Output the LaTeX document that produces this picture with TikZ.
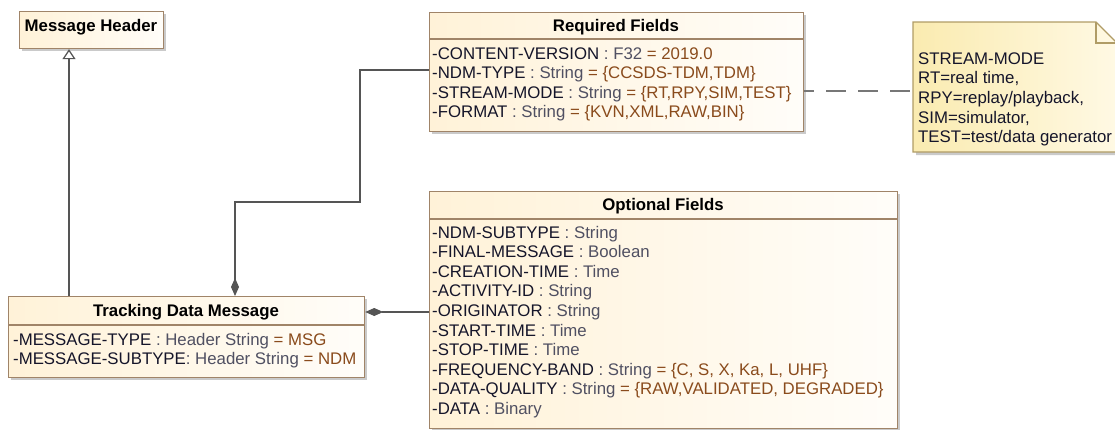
\documentclass[tikz,border=0pt]{standalone}
\usepackage{fontspec}
\setmainfont{Liberation Sans}
\usetikzlibrary{arrows.meta,shadows,calc}
\definecolor{bordc}{HTML}{A08468}
\definecolor{creamL}{HTML}{FFF2D8}
\definecolor{creamR}{HTML}{FFFDF9}
\definecolor{noteL}{HTML}{FAEBB0}
\definecolor{noteR}{HTML}{FFF9E4}
\definecolor{notebord}{HTML}{B09C66}
\definecolor{linec}{HTML}{555555}
\definecolor{namec}{HTML}{15152A}
\definecolor{typec}{HTML}{505062}
\definecolor{valc}{HTML}{8A4B1C}
\newcommand\attrv[3]{\textcolor{namec}{#1}\ \textcolor{typec}{: #2}\ \textcolor{valc}{= #3}}
\newcommand\attrt[2]{\textcolor{namec}{#1}\ \textcolor{typec}{: #2}}
\tikzset{
  umlbox/.style={draw=bordc, line width=1.2pt, left color=creamL, right color=creamR,
    drop shadow={shadow xshift=2.5pt, shadow yshift=-2.5pt, fill=black!35, opacity=.6},
    inner sep=0pt, anchor=north west},
  sepline/.style={draw=bordc, line width=1.1pt},
  attr/.style={inner sep=0pt, anchor=base west, text=namec, font=\fontsize{16.8}{19.5}\selectfont},
  ttl/.style={inner sep=0pt, anchor=base, text=black, font=\fontsize{16.8}{19.5}\selectfont\bfseries},
  conn/.style={draw=linec, line width=1.3pt},
}
\begin{document}
\begin{tikzpicture}[x=1pt,y=-1pt]
\useasboundingbox (0,0) rectangle (1115,429);
% boxes
\node[umlbox, minimum width=144pt, minimum height=37pt] (mh) at (19,11) {};
\node[umlbox, minimum width=374pt, minimum height=119pt] (rf) at (429,12) {};
\node[umlbox, minimum width=468pt, minimum height=237pt] (of) at (429,191) {};
\node[umlbox, minimum width=356pt, minimum height=81pt] (tdm) at (8,296) {};
\draw[sepline] (rf.west |- 0,39) -- (rf.east |- 0,39);
\draw[sepline] (of.west |- 0,219) -- (of.east |- 0,219);
\draw[sepline] (tdm.west |- 0,325) -- (tdm.east |- 0,325);
% note
\fill[black!35, opacity=.6] (916,25) -- (1099,25) -- (1121,47) -- (1121,155) -- (916,155) -- cycle;
\path[draw=notebord, line width=1.2pt, left color=noteL, right color=noteR]
  (913,22) -- (1096,22) -- (1118,44) -- (1118,152) -- (913,152) -- cycle;
\draw[draw=notebord, line width=1.2pt] (1096,22) -- (1096,43) -- (1118,43);
% titles
\node[ttl] (mht) at (91,31) {Message Header};
\node[ttl] (rft) at (616,31) {Required Fields};
\node[ttl] (oft) at (663,210) {Optional Fields};
\node[ttl] (tdmt) at (186,316) {Tracking Data Message};
% required fields
\node[attr] (rf1) at (432,59) {\attrv{-CONTENT-VERSION}{F32}{2019.0}};
\node[attr] (rf2) at (432,78.5) {\attrv{-NDM-TYPE}{String}{\{CCSDS-TDM,TDM\}}};
\node[attr] (rf3) at (432,98) {\attrv{-STREAM-MODE}{String}{\{RT,RPY,SIM,TEST\}}};
\node[attr] (rf4) at (432,117.5) {\attrv{-FORMAT}{String}{\{KVN,XML,RAW,BIN\}}};
% optional fields
\node[attr] (of1) at (432,238) {\attrt{-NDM-SUBTYPE}{String}};
\node[attr] (of2) at (432,257.6) {\attrt{-FINAL-MESSAGE}{Boolean}};
\node[attr] (of3) at (432,277.2) {\attrt{-CREATION-TIME}{Time}};
\node[attr] (of4) at (432,296.8) {\attrt{-ACTIVITY-ID}{String}};
\node[attr] (of5) at (432,316.4) {\attrt{-ORIGINATOR}{String}};
\node[attr] (of6) at (432,336) {\attrt{-START-TIME}{Time}};
\node[attr] (of7) at (432,355.6) {\attrt{-STOP-TIME}{Time}};
\node[attr] (of8) at (432,375.2) {\attrv{-FREQUENCY-BAND}{String}{\{C, S, X, Ka, L, UHF\}}};
\node[attr] (of9) at (432,394.8) {\attrv{-DATA-QUALITY}{String}{\{RAW,VALIDATED, DEGRADED\}}};
\node[attr] (of10) at (432,414.4) {\attrt{-DATA}{Binary}};
% tracking data message
\node[attr] (tdm1) at (13,345) {\attrv{-MESSAGE-TYPE}{Header String}{MSG}};
\node[attr] (tdm2) at (13,364.5) {\textcolor{namec}{-MESSAGE-SUBTYPE}\textcolor{typec}{: Header String}\ \textcolor{valc}{= NDM}};
% note text
\node[attr] (n1) at (918,64) {STREAM-MODE};
\node[attr] (n2) at (918,83.7) {RT=real time,};
\node[attr] (n3) at (918,103.4) {RPY=replay/playback,};
\node[attr] (n4) at (918,123.1) {SIM=simulator,};
\node[attr] (n5) at (918,142.8) {TEST=test/data generator};
% connectors
\coordinate (genS) at (tdm.north -| 69,0);
\coordinate (genE) at (mh.south -| 69,0);
\draw[conn, -{Triangle[open, length=10pt, width=13pt, line width=1.2pt]}] (genS) -- (genE);
\coordinate (c1S) at (tdm.north -| 235,0);
\coordinate (c1E) at (rf.west |- 0,70);
\draw[conn, {Diamond[length=18pt, width=8pt]}-] (c1S) -- (235,202) -- (360,202) -- (360,70) -- (c1E);
\coordinate (c2S) at (tdm.east |- 0,312);
\coordinate (c2E) at (of.west |- 0,312);
\draw[conn, {Diamond[length=18pt, width=8pt]}-] (c2S) -- (c2E);
\coordinate (smR) at (rf.east |- 0,91);
\coordinate (noteW) at (913,91);
\draw[draw=linec!80, line width=1.2pt, dash pattern=on 20pt off 12pt, dash phase=10pt] (smR) -- (noteW);
\end{tikzpicture}
\end{document}
